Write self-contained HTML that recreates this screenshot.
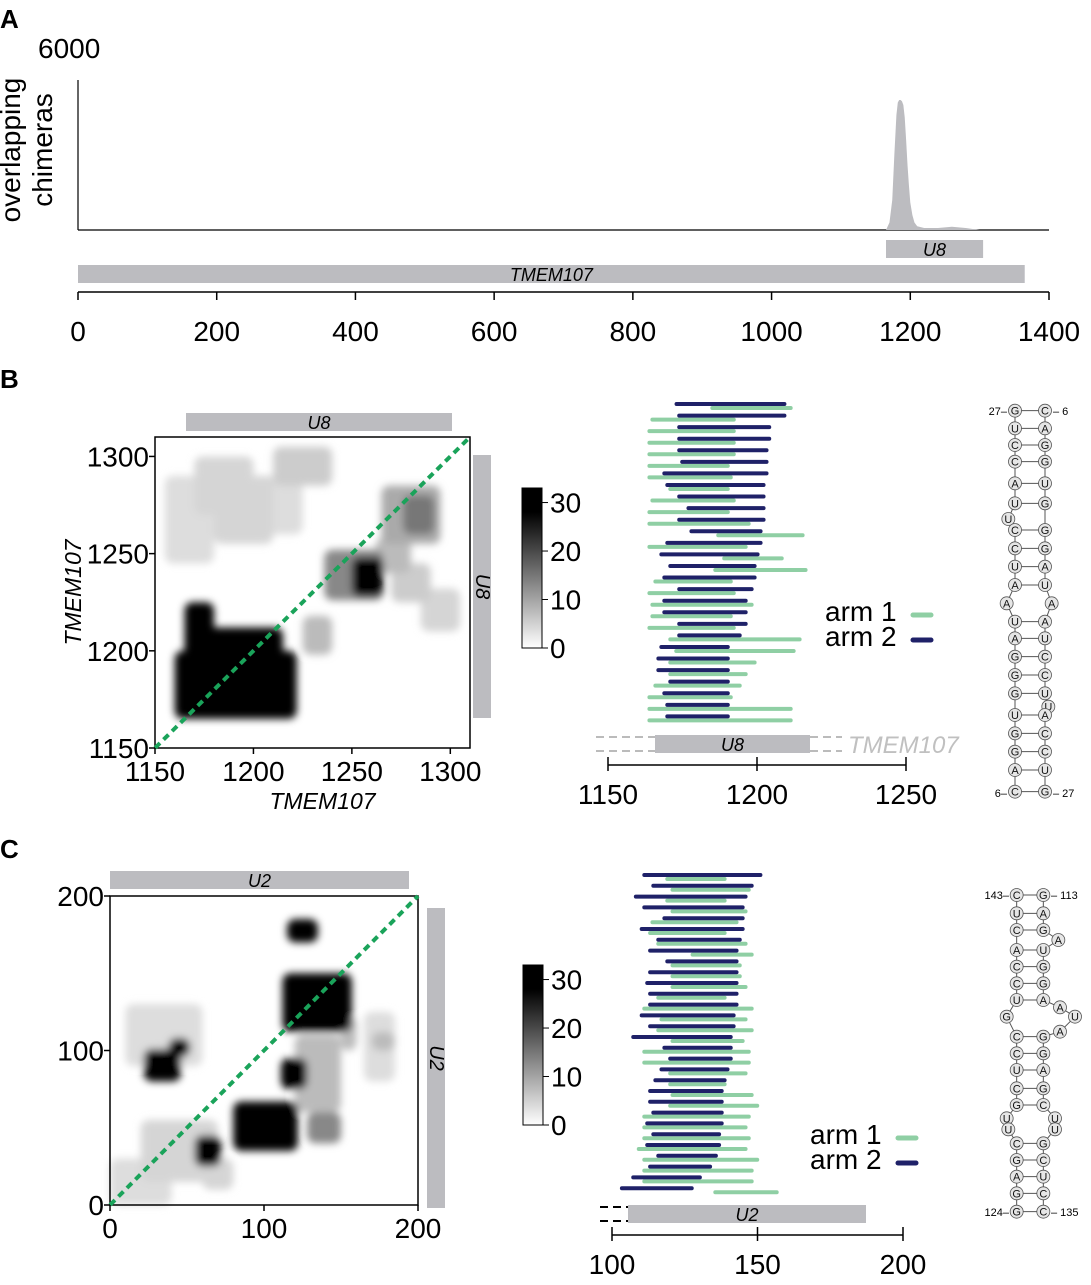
<!DOCTYPE html>
<html><head><meta charset="utf-8"><style>
body{margin:0;background:#fff;width:1091px;height:1280px;overflow:hidden;font-family:"Liberation Sans",Arial,sans-serif}
svg text{font-family:"Liberation Sans",Arial,sans-serif}
</style></head><body>
<svg id="fig" width="1091" height="1280" viewBox="0 0 1091 1280" xmlns="http://www.w3.org/2000/svg">
<defs>
<filter id="blur" x="-20%" y="-20%" width="140%" height="140%"><feGaussianBlur stdDeviation="4"/></filter>
<linearGradient id="cb" x1="0" y1="1" x2="0" y2="0"><stop offset="0" stop-color="#fff"/><stop offset="0.85" stop-color="#000"/><stop offset="1" stop-color="#000"/></linearGradient>
</defs>
<g id="root"></g>
</svg>
<script>
// ---- Panel A data ----
const aPos=[1165,1170,1174,1177,1180,1182,1184,1186,1188,1190,1192,1194,1196,1198,1200,1203,1206,1210,1220,1240,1260,1280,1300];
const aVal=[0,300,1200,3000,4600,5100,5200,5200,5150,5000,4500,3600,2600,1800,1100,600,300,150,80,80,130,80,0];
const aTicks=[0,200,400,600,800,1000,1200,1400];
// ---- Panel B arms (nt) ----
const bArm2Start=[1173,1173.9,1173.9,1173.9,1173.9,1174.9,1168.9,1169.9,1173.9,1177,1173.9,1178,1169.9,1167.9,1170.9,1168.9,1173.9,1168.9,1168.9,1173.9,1173.9,1167.9,1166.9,1166.9,1170.9,1168.9,1169.9,1169.9];
const bArm2End=[1209.2,1209.2,1204.1,1204.1,1203.2,1203.2,1203.2,1202.2,1202.2,1202.2,1202.2,1201.2,1201.2,1200.2,1199.2,1199.2,1198.2,1196.2,1196.2,1196.2,1194.2,1190.2,1190.2,1190.2,1190.2,1190.2,1190.2,1190.2];
const bArm1Start=[1185,1164.9,1163.9,1163.9,1163.9,1163.9,1163.9,1170.9,1164.9,1163.9,1163.9,1187,1163.9,1189,1186,1165.9,1163.9,1164.9,1164.9,1163.9,1170.9,1172.9,1170.9,1170.9,1165.9,1163.9,1163.9,1163.9];
const bArm1End=[1211.3,1192.2,1192.2,1192.2,1192.2,1190.2,1191.2,1190.2,1192.2,1190.2,1197.2,1215.3,1196.2,1208.3,1216.3,1191.2,1192.2,1198.2,1191.2,1192.2,1214.3,1212.3,1199.2,1196.2,1194.2,1191.2,1211.3,1211.3];
const bTicks=[1150,1200,1250];
// ---- Panel C arms (nt) ----
const cArm2Start=[111.1,114.2,108.2,111.1,118,110.2,115.9,113.1,119,113.1,112.1,113.1,113.1,110.2,113.1,107.3,118,120,117,114.9,113.1,113.1,114.2,112.1,114.2,112.1,115.9,113.1,107.3,103.4];
const cArm2End=[151,148,145.9,144.9,144.9,144.9,143.9,142.8,142.8,142.8,142.8,142.8,142.8,141.8,141.8,140.8,140.8,140.8,139.7,138.7,137.7,137.7,137.7,137.7,136.8,136.8,135.7,133.7,130.2,127.4];
const cArm1Start=[119,120.8,119,120.8,113.9,113.1,115.9,127.7,120.8,120.8,120.8,115.9,111.1,117,115.9,120.8,111.1,111.1,120,120,120.8,120,111.1,111.1,111.1,109.2,111.1,111.1,111.1,135.5];
const cArm1End=[138.7,147,138.7,145.9,142.8,138.7,145.9,148,143.9,143.9,145.9,138.7,148,145.9,148,144.9,147,147,145.9,138.7,148,149.9,147,145.9,147,145.9,149.9,148,148,156.6];
const cTicks=[100,150,200];
// ---- Heatmap cells [x0,x1,y0,y1] + value ----
const bCellBox=[[1165,1215,1168,1212],[1160,1222,1165,1200],[1250,1266,1228,1248],[1276,1292,1260,1280],[1265,1295,1255,1285],[1262,1280,1240,1258],[1270,1290,1225,1245],[1285,1305,1210,1232],[1225,1240,1198,1218],[1170,1200,1270,1300],[1180,1210,1255,1290],[1210,1240,1285,1305],[1155,1180,1245,1290],[1200,1225,1260,1290],[1165,1180,1180,1225],[1236,1266,1226,1252]];
const bCellVal=[40,36,40,16,10,8,6,5,8,5,5,6,4,4,40,14];
const cCellBox=[[115,135,170,185],[112,157,112,150],[22,46,80,101],[38,52,96,108],[80,122,35,67],[55,72,25,45],[111,128,75,95],[150,160,100,122],[170,185,100,112],[165,185,80,125],[128,150,40,60],[120,150,60,110],[0,40,0,30],[20,70,15,55],[60,80,10,30],[10,60,90,130]];
const cCellVal=[40,40,40,40,40,40,40,8,8,4,14,8,4,5,5,4];
const legendTicks=[0,10,20,30];

const NS='http://www.w3.org/2000/svg';
const root=document.getElementById('root');
function el(tag,attrs,parent,text){const e=document.createElementNS(NS,tag);for(const k in attrs)e.setAttribute(k,attrs[k]);if(text!==undefined)e.textContent=text;(parent||root).appendChild(e);return e;}
const GRAY='#bcbcc0',NAVY='#1f2168',GREEN='#8fcfa4';

[['A',0,28],['B',0,388],['C',0,858]].forEach(p=>{const t=el('text',{x:p[1],y:p[2],'font-size':26,'font-weight':'bold'},root,p[0]);});

// ===== Panel A =====
const ax=v=>78+v*(1049-78)/1400, ay=v=>230-v*150/6000;
const gA=el('g',{});
el('line',{x1:78,y1:80,x2:78,y2:230,stroke:'#000','stroke-width':1.2},gA);
el('line',{x1:78,y1:230,x2:1049,y2:230,stroke:'#000','stroke-width':1.2},gA);
const t6=el('text',{x:38,y:58,'font-size':28},gA,'6000');
const yt=el('text',{transform:'translate(32,150) rotate(-90)','text-anchor':'middle','font-size':28},gA);
el('tspan',{x:0,dy:-12},yt,'overlapping');el('tspan',{x:0,dy:32},yt,'chimeras');
let d='M'+ax(aPos[0])+','+ay(0);aPos.forEach((p,i)=>d+=' L'+ax(p)+','+ay(aVal[i]));d+=' L'+ax(aPos[aPos.length-1])+','+ay(0)+'Z';
const area=el('path',{d:d,fill:GRAY},gA);
const u8a=el('rect',{x:ax(1165),y:240,width:ax(1305)-ax(1165),height:18,fill:GRAY},gA);
el('text',{x:(ax(1165)+ax(1305))/2,y:256,'text-anchor':'middle','font-size':18,'font-style':'italic'},gA,'U8');
const tm=el('rect',{x:78,y:265,width:ax(1365)-78,height:18,fill:GRAY},gA);
el('text',{x:(78+ax(1365))/2,y:281,'text-anchor':'middle','font-size':18,'font-style':'italic'},gA,'TMEM107');
el('line',{x1:78,y1:292,x2:1049,y2:292,stroke:'#000','stroke-width':1.5},gA);
aTicks.forEach(t=>{el('line',{x1:ax(t),y1:292,x2:ax(t),y2:300,stroke:'#000','stroke-width':1.5},gA);const tx=el('text',{x:ax(t),y:341,'text-anchor':'middle','font-size':28},gA,String(t));});

// ===== Heatmap helper =====
function heatmap(name,x0,x1,y0,y1,d0,d1,boxes,vals,ticks,label,topBar,sideBar){
  const g=el('g',{});
  const sx=v=>x0+(v-d0)*(x1-x0)/(d1-d0), sy=v=>y1-(v-d0)*(y1-y0)/(d1-d0);
  const cells=el('g',{filter:'url(#blur)'},g);
  const order=vals.map((v,i)=>i).sort((a,b)=>vals[a]-vals[b]);
  order.forEach(i=>{const b=boxes[i];const v=Math.min(vals[i],30)/30;const c=Math.round(255*(1-v));
    const r=el('rect',{x:sx(b[0]),y:sy(b[3]),width:sx(b[1])-sx(b[0]),height:sy(b[2])-sy(b[3]),fill:`rgb(${c},${c},${c})`,rx:8},cells);
    });
  el('rect',{x:x0,y:y0,width:x1-x0,height:y1-y0,fill:'none',stroke:'#000','stroke-width':1.5},g);
  const dg=el('line',{x1:x0,y1:y1,x2:x1,y2:y0,stroke:'#1aa35a','stroke-width':4,'stroke-dasharray':'7,5'},g);
  ticks.forEach(t=>{const px=sx(t),py=sy(t);
    el('line',{x1:px,y1:y1,x2:px,y2:y1+6,stroke:'#000','stroke-width':1.5},g);
    el('line',{x1:x0-6,y1:py,x2:x0,y2:py,stroke:'#000','stroke-width':1.5},g);
    const a=el('text',{x:px,y:y1+33,'text-anchor':'middle','font-size':28},g,String(t));
    const b=el('text',{x:x0-6,y:py+10,'text-anchor':'end','font-size':28},g,String(t));});
  el('rect',{x:topBar[0],y:topBar[1],width:topBar[2],height:18,fill:GRAY},g);
  el('text',{x:topBar[0]+topBar[2]/2,y:topBar[1]+16,'text-anchor':'middle','font-size':18,'font-style':'italic'},g,topBar[3]);
  el('rect',{x:sideBar[0],y:sideBar[1],width:18,height:sideBar[2],fill:GRAY},g);
  el('text',{transform:`translate(${sideBar[0]+3},${sideBar[1]+sideBar[2]/2}) rotate(90)`,'text-anchor':'middle','font-size':20,'font-style':'italic'},g,topBar[3]);
  if(label){el('text',{x:(x0+x1)/2+10,y:y1+61,'text-anchor':'middle','font-size':23,'font-style':'italic'},g,label);
    el('text',{transform:`translate(${x0-74},${(y0+y1)/2}) rotate(-90)`,'text-anchor':'middle','font-size':23,'font-style':'italic'},g,label);}
}
heatmap('panel-b-heatmap',155,470,437,748,1150,1310,bCellBox,bCellVal,[1150,1200,1250,1300],'TMEM107',[186,413,266,'U8'],[473,455,263]);
heatmap('panel-c-heatmap',110,418,896,1205,0,200,cCellBox,cCellVal,[0,100,200],null,[110,871,299,'U2'],[427,908,300]);

function colorbar(name,x,y0,y1){const g=el('g',{});
  el('rect',{x:x,y:y0,width:20,height:y1-y0,fill:'url(#cb)',stroke:'#000','stroke-width':1},g);
  legendTicks.forEach(t=>{const y=y1-t*(y1-y0)/33;el('line',{x1:x+20,y1:y,x2:x+26,y2:y,stroke:'#000'},g);
    const tx=el('text',{x:x+28,y:y+10,'font-size':28},g,String(t));});}
colorbar('panel-b-colorbar',522,488,648);
colorbar('panel-c-colorbar',523,965,1125);

function arms(name,x0,pxPer,d0,yStart,dy,s2,e2,s1,e1,ticks,axisY,barX0,barX1,barLabel,host,legY){
  const g=el('g',{});
  const sx=v=>x0+(v-d0)*pxPer;
  s2.forEach((s,i)=>{const y=yStart+i*dy;
    const a1=el('line',{x1:sx(s1[i]),y1:y+4,x2:sx(e1[i]),y2:y+4,stroke:GREEN,'stroke-width':4,'stroke-linecap':'round'},g);
    const a2=el('line',{x1:sx(s),y1:y,x2:sx(e2[i]),y2:y,stroke:NAVY,'stroke-width':4,'stroke-linecap':'round'},g);});
  const by=axisY-30;
  el('rect',{x:barX0,y:by,width:barX1-barX0,height:18,fill:GRAY},g);
  el('text',{x:(barX0+barX1)/2,y:by+16,'text-anchor':'middle','font-size':18,'font-style':'italic'},g,barLabel);
  const dc=host?'#bbb':'#000';
  el('path',{d:`M${sx(ticks[0])-12},${by+2} H${barX0} M${sx(ticks[0])-12},${by+16} H${barX0}`,stroke:dc,'stroke-width':2,'stroke-dasharray':'8,5',fill:'none'},g);
  if(host){el('path',{d:`M${barX1},${by+2} H${barX1+32} M${barX1},${by+16} H${barX1+32}`,stroke:dc,'stroke-width':2,'stroke-dasharray':'8,5',fill:'none'},g);
    el('text',{x:barX1+38,y:by+18,'font-size':24,'font-style':'italic',fill:'#c0c0c0'},g,host);}
  el('line',{x1:sx(ticks[0]),y1:axisY,x2:sx(ticks[ticks.length-1]),y2:axisY,stroke:'#000','stroke-width':1.5},g);
  ticks.forEach(t=>{el('line',{x1:sx(t),y1:axisY-8,x2:sx(t),y2:axisY+6,stroke:'#000','stroke-width':1.5},g);
    const tx=el('text',{x:sx(t),y:axisY+39,'text-anchor':'middle','font-size':28},g,String(t));});
  const lg=el('g',{},g);
  el('text',{x:legY[0],y:legY[1],'font-size':28},lg,'arm 1');el('line',{x1:legY[0]+88,y1:legY[1]-6,x2:legY[0]+106,y2:legY[1]-6,stroke:GREEN,'stroke-width':5,'stroke-linecap':'round'},lg);
  el('text',{x:legY[0],y:legY[1]+25,'font-size':28},lg,'arm 2');el('line',{x1:legY[0]+88,y1:legY[1]+19,x2:legY[0]+106,y2:legY[1]+19,stroke:NAVY,'stroke-width':5,'stroke-linecap':'round'},lg);
}
arms('panel-b-arms',608,2.98,1150,404,11.57,bArm2Start,bArm2End,bArm1Start,bArm1End,bTicks,765,655,810,'U8','TMEM107',[825,621]);
arms('panel-c-arms',612,2.91,100,875,10.8,cArm2Start,cArm2End,cArm1Start,cArm1End,cTicks,1235,628,866,'U2',null,[810,1144]);

function structure(name,baseY,L,R,labels){
  const g=el('g',{});
  const P=n=>[990+n[0]/3,baseY+n[1]/3,n[2]];
  const Ls=L.map(P),Rs=R.map(P);
  const bb=(arr)=>el('polyline',{points:arr.map(p=>p[0]+','+p[1]).join(' '),fill:'none',stroke:'#555','stroke-width':1},g);
  bb(Ls);bb(Rs);
  Ls.forEach(a=>Rs.forEach(b=>{if(Math.abs(a[1]-b[1])<2&&a[0]>1005&&b[0]<1050)el('line',{x1:a[0],y1:a[1],x2:b[0],y2:b[1],stroke:'#555','stroke-width':1},g);}));
  Ls.concat(Rs).forEach(p=>{el('circle',{cx:p[0],cy:p[1],r:6.5,fill:'#e6e6e6',stroke:'#555','stroke-width':0.8},g);
    const t=el('text',{x:p[0],y:p[1]+4,'text-anchor':'middle','font-size':11,fill:'#111'},g,p[2]);});
  labels.forEach(l=>el('text',{x:l[0],y:l[1],'font-size':11,'text-anchor':l[3]},g,l[2]));
}
structure('panel-b-structure',395,
 [[75,47,'G'],[75,100,'U'],[75,150,'C'],[75,200,'C'],[75,265,'A'],[75,325,'U'],[55,372,'U'],[75,405,'C'],[75,460,'C'],[75,515,'U'],[75,570,'A'],[50,625,'A'],[75,680,'U'],[75,730,'A'],[75,785,'G'],[75,840,'G'],[75,895,'G'],[75,960,'U'],[75,1015,'G'],[75,1070,'G'],[75,1125,'A'],[75,1190,'C']],
 [[165,47,'C'],[165,100,'A'],[165,150,'G'],[165,200,'G'],[165,265,'U'],[165,325,'G'],[165,405,'G'],[165,460,'G'],[165,515,'A'],[165,570,'U'],[185,625,'A'],[165,680,'A'],[165,730,'U'],[165,785,'C'],[165,840,'C'],[165,895,'U'],[175,935,'U'],[165,960,'A'],[165,1015,'C'],[165,1070,'C'],[165,1125,'U'],[165,1190,'G']],
 [[1007,415,'27–','end'],[1053,415,'– 6','start'],[1007,797,'6–','end'],[1053,797,'– 27','start']]);
structure('panel-c-structure',880,
 [[80,45,'C'],[80,100,'U'],[80,150,'C'],[80,210,'A'],[80,260,'C'],[80,310,'C'],[80,360,'U'],[50,410,'G'],[80,470,'C'],[80,520,'C'],[80,570,'U'],[80,625,'C'],[80,675,'G'],[50,715,'U'],[55,748,'U'],[80,790,'C'],[80,840,'G'],[80,890,'A'],[80,940,'G'],[80,995,'G']],
 [[160,45,'G'],[160,100,'A'],[160,150,'G'],[205,180,'A'],[160,210,'U'],[160,260,'G'],[160,310,'G'],[160,360,'A'],[210,382,'A'],[255,410,'U'],[210,455,'A'],[160,470,'G'],[160,520,'G'],[160,570,'A'],[160,625,'G'],[160,675,'C'],[195,715,'U'],[195,748,'U'],[160,790,'G'],[160,840,'C'],[160,890,'U'],[160,940,'C'],[160,995,'C']],
 [[1009,899,'143–','end'],[1051,899,'– 113','start'],[1009,1216,'124–','end'],[1051,1216,'– 135','start']]);
</script>
</body></html>
